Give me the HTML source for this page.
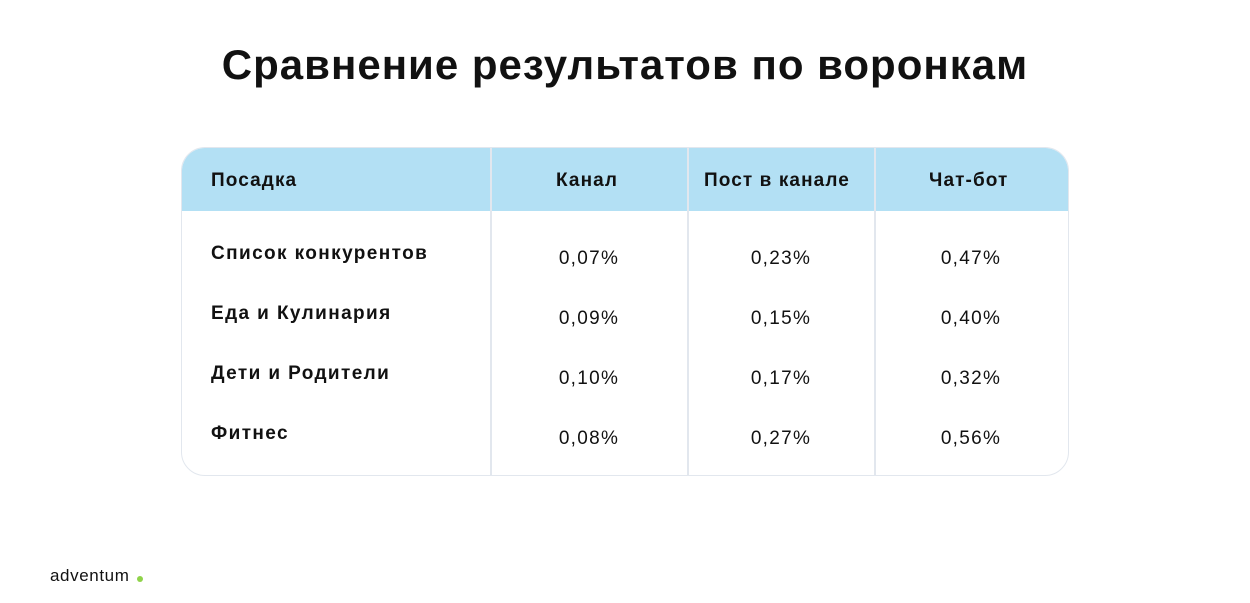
<!DOCTYPE html>
<html><head><meta charset="utf-8"><style>
body{margin:0;width:1250px;height:603px;background:#fff;font-family:"Liberation Sans",sans-serif;color:#111;position:relative;overflow:hidden}
.t{position:absolute;left:0;width:1250px;text-align:center;top:41px;font-size:42px;font-weight:bold;letter-spacing:1px}
.tb{position:absolute;left:181px;top:147px;width:886px;height:327px;border:1px solid #e2e7ee;border-radius:24px;overflow:hidden}
.hd{position:absolute;left:0;top:0;width:100%;height:63px;background:#b3e0f4}
.v{position:absolute;top:0;width:2px;height:100%;background:#e2e7ee}
.h{position:absolute;font-size:19px;font-weight:bold;letter-spacing:1.1px}
.c{position:absolute;font-size:19px;text-align:center;width:160px;letter-spacing:1.3px}
.r{position:absolute;left:29px;font-size:19px;font-weight:bold;letter-spacing:1.4px}
.logo{position:absolute;left:50px;top:566px;font-size:17px;letter-spacing:0.6px}
.dot{position:absolute;left:137px;top:576px;width:6px;height:6px;border-radius:50%;background:#8fd34a}
</style></head><body>
<div class="t">Сравнение результатов по воронкам</div>
<div class="tb">
<div class="hd"></div>
<div class="v" style="left:308px"></div>
<div class="v" style="left:505px"></div>
<div class="v" style="left:692px"></div>
<div class="h" style="left:29px;top:22px">Посадка</div>
<div class="h" style="left:374px;top:22px">Канал</div>
<div class="h" style="left:522px;top:22px">Пост в канале</div>
<div class="h" style="left:747px;top:22px">Чат-бот</div>
<div class="r" style="top:95px">Список конкурентов</div>
<div class="r" style="top:155px">Еда и Кулинария</div>
<div class="r" style="top:215px">Дети и Родители</div>
<div class="r" style="top:275px">Фитнес</div>
<div class="c" style="left:327px;top:100px">0,07%</div><div class="c" style="left:519px;top:100px">0,23%</div><div class="c" style="left:709px;top:100px">0,47%</div>
<div class="c" style="left:327px;top:160px">0,09%</div><div class="c" style="left:519px;top:160px">0,15%</div><div class="c" style="left:709px;top:160px">0,40%</div>
<div class="c" style="left:327px;top:220px">0,10%</div><div class="c" style="left:519px;top:220px">0,17%</div><div class="c" style="left:709px;top:220px">0,32%</div>
<div class="c" style="left:327px;top:280px">0,08%</div><div class="c" style="left:519px;top:280px">0,27%</div><div class="c" style="left:709px;top:280px">0,56%</div>
</div>
<div class="logo">adventum</div><div class="dot"></div>
</body></html>
